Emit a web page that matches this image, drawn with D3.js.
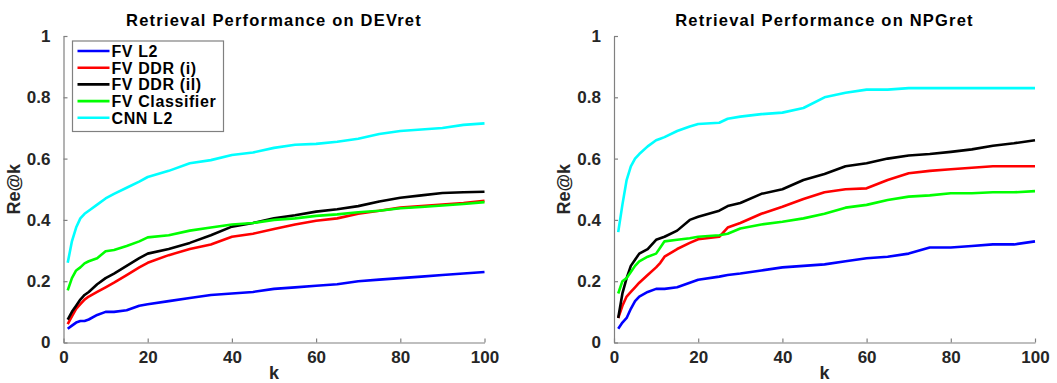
<!DOCTYPE html>
<html>
<head>
<meta charset="utf-8">
<script src="https://cdn.jsdelivr.net/npm/d3@7/dist/d3.min.js"></script>
<style>
  body { margin: 0; background: #fff; }
  svg { display: block; font-family: "Liberation Sans", Arial, Helvetica, sans-serif; }
</style>
</head>
<body>
<div id="chart"></div>
<script>
// Re@k curves for the two retrieval sets

const seriesNames = ['FV L2', 'FV DDR (i)', 'FV DDR (il)', 'FV Classifier', 'CNN L2'];
const seriesColors = ['#0000ff', '#ff0000', '#000000', '#00ff00', '#00ffff'];

const yTicks = [0, 0.2, 0.4, 0.6, 0.8, 1];
const xTicks = [0, 20, 40, 60, 80, 100];

// DEVret
const kDev = [1, 2, 3, 4, 5, 6, 8, 10, 12, 15, 18, 20, 25, 30, 35, 40, 45, 50, 55, 60, 65, 70, 75, 80, 85, 90, 95, 100];
const devFvL2 = [.045, .055, .065, .07, .07, .075, .09, .10, .10, .105, .12, .125, .135, .145, .155, .16, .165, .175, .18, .185, .19, .20, .205, .21, .215, .22, .225, .23];
const devDdrI = [.06, .085, .11, .125, .14, .15, .165, .18, .195, .22, .245, .26, .285, .305, .32, .345, .355, .37, .385, .397, .405, .42, .43, .44, .445, .45, .455, .462];
const devDdrIl = [.075, .10, .12, .14, .155, .165, .19, .21, .225, .25, .275, .29, .305, .325, .35, .378, .39, .405, .415, .427, .435, .445, .46, .472, .48, .488, .49, .492];
const devClassifier = [.17, .21, .235, .245, .258, .265, .275, .298, .302, .315, .33, .343, .35, .365, .375, .385, .39, .40, .405, .413, .418, .425, .43, .438, .442, .447, .452, .458];
const devCnnL2 = [.26, .33, .375, .405, .42, .43, .45, .47, .485, .505, .525, .54, .56, .585, .595, .612, .62, .635, .645, .648, .655, .665, .68, .69, .695, .70, .71, .715];

// NPGret
const kNpg = [1, 2, 3, 4, 5, 6, 8, 10, 11, 12, 15, 18, 20, 25, 27, 30, 35, 40, 45, 50, 55, 60, 65, 70, 75, 80, 85, 90, 95, 100];
const npgFvL2 = [.045, .065, .08, .11, .135, .15, .165, .175, .175, .175, .18, .195, .205, .215, .22, .225, .235, .245, .25, .255, .265, .275, .28, .29, .31, .31, .315, .32, .32, .33];
const npgDdrI = [.08, .12, .15, .165, .18, .195, .22, .245, .26, .28, .305, .325, .337, .345, .375, .39, .42, .443, .468, .49, .50, .503, .53, .552, .56, .565, .57, .575, .575, .575];
const npgDdrIl = [.08, .16, .21, .25, .27, .29, .305, .335, .34, .345, .365, .40, .41, .43, .445, .455, .485, .50, .53, .55, .575, .585, .60, .61, .615, .622, .63, .642, .65, .66];
const npgClassifier = [.16, .20, .21, .23, .25, .265, .28, .29, .31, .33, .335, .34, .345, .35, .355, .372, .385, .394, .405, .42, .44, .449, .465, .476, .48, .487, .487, .49, .49, .494];
const npgCnnL2 = [.36, .45, .53, .575, .60, .615, .64, .66, .665, .67, .69, .705, .713, .717, .73, .737, .745, .75, .765, .80, .815, .825, .825, .83, .83, .83, .83, .83, .83, .83];

const panels = [
  { title: 'Retrieval Performance on DEVret', k: kDev, series: [devFvL2, devDdrI, devDdrIl, devClassifier, devCnnL2], left: 63.5, legend: true },
  { title: 'Retrieval Performance on NPGret', k: kNpg, series: [npgFvL2, npgDdrI, npgDdrIl, npgClassifier, npgCnnL2], left: 614, legend: false }
];

const width = 1057, height = 383;
const plotW = 421, plotTop = 36, plotH = 306.5;
const axisColor = '#808080';
const textColor = '#262626';

const svg = d3.select('#chart').append('svg')
  .attr('width', width)
  .attr('height', height);

panels.forEach(p => {
  const g = svg.append('g').attr('transform', `translate(${p.left},${plotTop})`);

  const x = d3.scaleLinear().domain([0, 100]).range([0, plotW]);
  const y = d3.scaleLinear().domain([0, 1]).range([plotH, 0]);

  // x axis, ticks pointing inward
  const xAxis = g.append('g')
    .attr('transform', `translate(0,${plotH})`)
    .call(d3.axisBottom(x).tickValues(xTicks).tickSizeInner(-4).tickSizeOuter(0).tickPadding(8));
  // y axis
  const yAxis = g.append('g')
    .call(d3.axisLeft(y).tickValues(yTicks).tickSizeInner(-4).tickSizeOuter(0).tickPadding(13)
      .tickFormat(d => d === 0 || d === 1 ? d3.format('d')(d) : d3.format('.1f')(d)));

  [xAxis, yAxis].forEach(a => {
    a.select('.domain').attr('stroke', axisColor).attr('stroke-width', 1.2);
    a.selectAll('.tick line').attr('stroke', axisColor).attr('stroke-width', 1.2);
    a.selectAll('.tick text')
      .attr('fill', textColor)
      .style('font-size', '17px')
      .style('font-weight', 'bold');
  });

  // curves
  const line = d3.line()
    .x((d, i) => x(p.k[i]))
    .y(d => y(d));

  p.series.forEach((vals, si) => {
    g.append('path')
      .datum(vals)
      .attr('fill', 'none')
      .attr('stroke', seriesColors[si])
      .attr('stroke-width', 2.6)
      .attr('stroke-linejoin', 'round')
      .attr('d', line);
  });

  // title
  g.append('text')
    .attr('x', plotW / 2)
    .attr('y', -10)
    .attr('text-anchor', 'middle')
    .style('font-size', '16.5px')
    .style('font-weight', 'bold')
    .style('letter-spacing', '1.2px')
    .attr('fill', '#000')
    .text(p.title);

  // axis labels
  g.append('text')
    .attr('x', plotW / 2)
    .attr('y', plotH + 36)
    .attr('text-anchor', 'middle')
    .style('font-size', '18px')
    .style('font-weight', 'bold')
    .attr('fill', textColor)
    .text('k');

  g.append('text')
    .attr('transform', `translate(-44,${plotH / 2}) rotate(-90)`)
    .attr('text-anchor', 'middle')
    .style('font-size', '18px')
    .style('font-weight', 'bold')
    .attr('fill', textColor)
    .text('Re@k');

  if (p.legend) {
    const lg = g.append('g').attr('transform', 'translate(9,5)');
    lg.append('rect')
      .attr('width', 151)
      .attr('height', 90.5)
      .attr('fill', '#fff')
      .attr('stroke', axisColor)
      .attr('stroke-width', 1.2);
    seriesNames.forEach((name, i) => {
      const row = lg.append('g').attr('transform', `translate(0,${10 + i * 16.7})`);
      row.append('line')
        .attr('x1', 5).attr('x2', 37)
        .attr('y1', 0).attr('y2', 0)
        .attr('stroke', seriesColors[i])
        .attr('stroke-width', 2.6);
      row.append('text')
        .attr('x', 39)
        .attr('y', 6)
        .style('font-size', '16px')
        .style('font-weight', 'bold')
        .style('letter-spacing', '0.6px')
        .attr('fill', '#000')
        .text(name);
    });
  }
});
</script>
</body>
</html>
